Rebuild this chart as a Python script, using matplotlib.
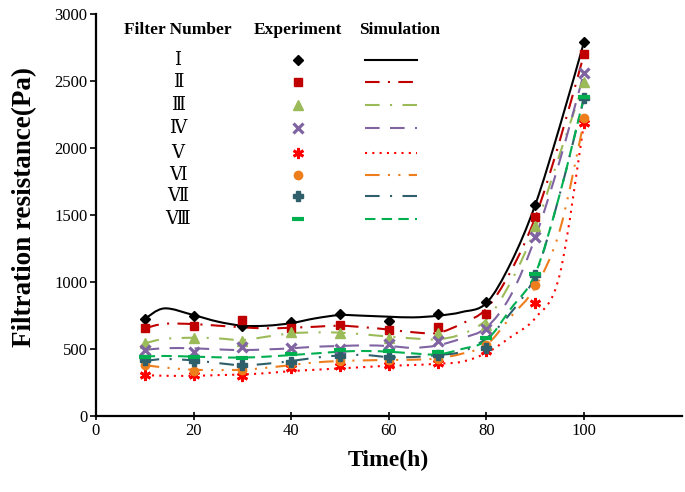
import numpy as np
import matplotlib.pyplot as plt
from matplotlib.path import Path
from matplotlib.patches import PathPatch

plt.rcParams['font.family'] = ['Liberation Serif', 'DejaVu Serif', 'DejaVu Sans']

# experiment points (every 10 h)
t_exp = [10, 20, 30, 40, 50, 60, 70, 80, 90, 100]
exp_1 = [724, 745, 670, 704, 758, 706, 758, 850, 1578, 2790]
exp_2 = [654, 668, 716, 654, 680, 645, 662, 762, 1485, 2700]
exp_3 = [542, 579, 560, 625, 617, 579, 617, 679, 1417, 2492]
exp_4 = [492, 478, 515, 505, 500, 540, 560, 649, 1335, 2560]
exp_5 = [306, 306, 302, 358, 372, 383, 395, 485, 843, 2186]
exp_6 = [382, 338, 340, 385, 410, 420, 425, 530, 977, 2223]
exp_7 = [420, 410, 380, 400, 450, 440, 455, 510, 1050, 2370]
exp_8 = [443, 443, 436, 460, 490, 485, 475, 582, 1060, 2380]

# simulation curves
t_sim = [10, 14, 20, 25, 30, 35, 40, 45, 50, 55, 60, 65, 70, 75, 80, 85, 90, 95, 100]
sim_1 = [724, 803, 753, 704, 674, 674, 693, 729, 753, 748, 741, 736, 748, 776, 843, 1141, 1574, 2156, 2790]
sim_2 = [654, 688, 686, 674, 662, 654, 659, 666, 674, 662, 645, 625, 620, 690, 800, 1080, 1480, 2050, 2700]
sim_3 = [542, 575, 584, 579, 567, 592, 617, 624, 622, 609, 592, 579, 572, 612, 720, 1000, 1400, 1950, 2490]
sim_4 = [492, 506, 505, 497, 492, 497, 505, 517, 522, 527, 522, 509, 527, 580, 660, 900, 1330, 1900, 2560]
sim_5 = [306, 300, 300, 305, 310, 320, 335, 345, 355, 365, 375, 380, 390, 405, 470, 590, 730, 1050, 2186]
sim_6 = [380, 362, 345, 343, 345, 360, 380, 400, 410, 415, 418, 420, 430, 465, 530, 740, 960, 1380, 2200]
sim_7 = [410, 425, 415, 395, 378, 390, 410, 435, 452, 455, 440, 440, 455, 480, 580, 770, 1050, 1650, 2370]
sim_8 = [443, 448, 443, 438, 436, 443, 455, 467, 480, 485, 480, 467, 460, 500, 565, 800, 1060, 1650, 2380]

names = ['Ⅰ', 'Ⅱ', 'Ⅲ', 'Ⅳ', 'Ⅴ', 'Ⅵ', 'Ⅶ', 'Ⅷ']
exps = [exp_1, exp_2, exp_3, exp_4, exp_5, exp_6, exp_7, exp_8]
sims = [sim_1, sim_2, sim_3, sim_4, sim_5, sim_6, sim_7, sim_8]

colors = ['#000000', '#c00000', '#9bbb59', '#8064a2', '#ff0000', '#ee7d1c', '#2f5f6b', '#00b050']
markers = ['D', 's', '^', 'x', (6, 2, 0), 'o', 'P', '_']
msizes = [5, 5.5, 6.5, 6.5, 8, 6, 7, 9]
mews = [1, 1, 1, 2.3, 2.0, 1, 1, 3]
styles = ['-', (0, (7, 4, 1, 4)), (0, (7, 5, 1, 5)), (0, (7, 5)), (0, (1, 2.5)),
          (0, (7, 4, 1, 4, 1, 4)), (0, (7, 5, 1, 5)), (0, (5, 3))]


def smooth_path(x, y):
    # catmull-rom style bezier through the points (like a "smoothed line")
    x = np.asarray(x, float)
    y = np.asarray(y, float)
    verts = [(x[0], y[0])]
    codes = [Path.MOVETO]
    n = len(x)
    for i in range(n - 1):
        i0 = max(i - 1, 0)
        i3 = min(i + 2, n - 1)
        c1 = (x[i] + (x[i + 1] - x[i0]) / 6, y[i] + (y[i + 1] - y[i0]) / 6)
        c2 = (x[i + 1] - (x[i3] - x[i]) / 6, y[i + 1] - (y[i3] - y[i]) / 6)
        verts += [c1, c2, (x[i + 1], y[i + 1])]
        codes += [Path.CURVE4] * 3
    return Path(verts, codes)


fig = plt.figure(figsize=(6.85, 4.92), dpi=100)
ax = fig.add_axes([0.140, 0.1545, 0.855, 0.817])

for e, s, c, m, ms, mw, ls in zip(exps, sims, colors, markers, msizes, mews, styles):
    ax.add_patch(PathPatch(smooth_path(t_sim, s), facecolor='none', edgecolor=c,
                           linestyle=ls, linewidth=1.5, zorder=2))
    ax.plot(t_exp, e, linestyle='none', marker=m, markersize=ms, color=c,
            markeredgewidth=mw, zorder=3)

ax.set_xlim(0, 120)
ax.set_ylim(0, 3000)
ax.set_xticks([0, 20, 40, 60, 80, 100])
ax.set_yticks(np.arange(0, 3001, 500))
for sp in ['top', 'right']:
    ax.spines[sp].set_visible(False)
for sp in ['left', 'bottom']:
    ax.spines[sp].set_linewidth(1.6)
ax.tick_params(axis='x', direction='inout', length=6, width=1.2, labelsize=12, pad=2)
ax.tick_params(axis='y', direction='out', length=4, width=1.2, labelsize=12, pad=2)
ax.set_xlabel('Time(h)', fontsize=17, fontweight='bold', labelpad=8)
ax.set_ylabel('Filtration resistance(Pa)', fontsize=19.5, fontweight='bold', labelpad=10)
ax.yaxis.set_label_coords(-0.10, 0.52)

# hand-made legend table
hdr_y = 0.960
ax.text(0.140, hdr_y, 'Filter Number', transform=ax.transAxes, ha='center', va='center',
        fontsize=12.5, fontweight='bold')
ax.text(0.345, hdr_y, 'Experiment', transform=ax.transAxes, ha='center', va='center',
        fontsize=12.5, fontweight='bold')
ax.text(0.519, hdr_y, 'Simulation', transform=ax.transAxes, ha='center', va='center',
        fontsize=12.5, fontweight='bold')
row_y = [0.886, 0.831, 0.774, 0.716, 0.654, 0.600, 0.547, 0.490]
for i in range(8):
    y = row_y[i]
    ax.text(0.140, y, names[i], transform=ax.transAxes, ha='center', va='center', fontsize=13,
            family=['DejaVu Serif', 'DejaVu Sans'])
    ax.plot([0.345], [y], transform=ax.transAxes, marker=markers[i], markersize=msizes[i],
            color=colors[i], markeredgewidth=mews[i], linestyle='none', clip_on=False)
    ax.plot([0.459, 0.549], [y, y], transform=ax.transAxes, color=colors[i],
            linestyle=styles[i], linewidth=1.5, clip_on=False)

fig.savefig('out.png', dpi=100)
